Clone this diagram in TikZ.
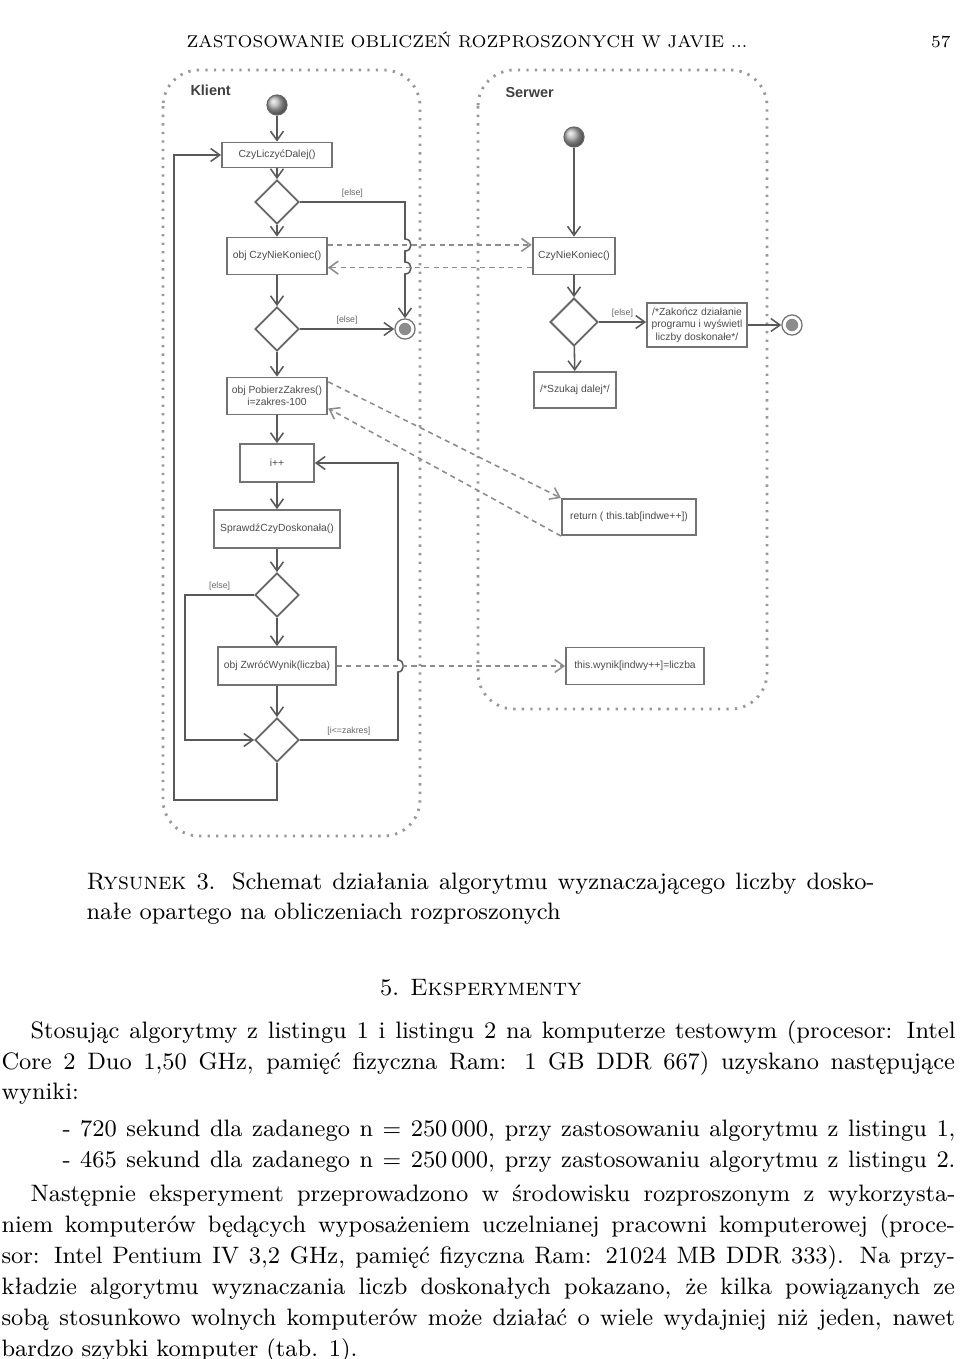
\documentclass[tikz,border=0pt]{standalone}
\usepackage{fontspec}
\newfontfamily\diagfont{Liberation Sans}
\usetikzlibrary{shapes.geometric}
\usetikzlibrary{arrows.meta}
\newcommand{\wiersz}[2]{\makebox[#1][s]{#2}}

\tikzset{
  tor/.style={draw=black!40, line width=1.1pt, dash pattern=on 0.9pt off 2.4pt, rounded corners=14pt},
  akcja/.style={draw=black!55, line width=0.7pt, fill=white, inner sep=1pt, align=center,
    text=black!70, font=\diagfont\fontsize{4}{4.8}\selectfont},
  decyzja/.style={diamond, aspect=1, draw=black!60, line width=0.7pt, minimum width=17pt,
    minimum height=17pt, inner sep=0pt},
  poczatek/.style={circle, minimum size=7.8pt, inner sep=0pt, draw=black!60, ball color=black!30},
  koniec/.style={circle, minimum size=7.8pt, inner sep=0pt, draw=black!55, line width=0.5pt,
    path picture={\fill[black!45] (path picture bounding box.center) circle (2.4pt);}},
  przejscie/.style={draw=black!65, line width=0.6pt, -{Straight Barb[length=3.5pt,width=5pt]}},
  komunikat/.style={draw=black!45, line width=0.6pt, dash pattern=on 2pt off 1.6pt,
    -{Straight Barb[length=3.5pt,width=5pt]}},
  etyk/.style={font=\diagfont\fontsize{3.4}{4}\selectfont, text=black!60, inner sep=1.5pt},
  tekst/.style={anchor=base west, inner sep=0pt, font=\fontsize{9.2}{11}\selectfont},
}

\begin{document}
\begin{tikzpicture}[x=0.387pt, y=-0.387pt]
  \useasboundingbox (0,0) rectangle (960,1359);

  % naglowek strony
  \node[anchor=base, inner sep=0pt, font=\fontsize{6.6}{8}\selectfont] (nagl) at (467,47)
    {ZASTOSOWANIE OBLICZEŃ ROZPROSZONYCH W JAVIE ...};
  \node[anchor=base east, inner sep=0pt, font=\fontsize{6.6}{8}\selectfont] (str) at (951,47) {57};

  % tory
  \draw[tor] (163,70) rectangle (420,836);
  \draw[tor] (478,70) rectangle (767,709);
  \node[anchor=west, inner sep=0pt, text=black!75, font=\diagfont\bfseries\fontsize{5.6}{6.5}\selectfont]
    (klient) at (190,90) {Klient};
  \node[anchor=west, inner sep=0pt, text=black!75, font=\diagfont\bfseries\fontsize{5.6}{6.5}\selectfont]
    (serwer) at (505,93) {Serwer};

  % klient
  \node[poczatek] (start1) at (277,105) {};
  \node[akcja, minimum width=42.6pt, minimum height=9.7pt] (cz1) at (277,155) {CzyLiczyćDalej()};
  \node[decyzja] (d1) at (277,202) {};
  \node[akcja, minimum width=38.7pt, minimum height=14.3pt] (objcnk) at (277,256) {obj CzyNieKoniec()};
  \node[decyzja] (d2) at (277,329) {};
  \node[koniec] (fin1) at (405,329) {};
  \node[akcja, minimum width=39pt, minimum height=14.3pt] (objpz) at (277,396)
    {obj PobierzZakres()\\i=zakres-100};
  \node[akcja, minimum width=28.6pt, minimum height=14.7pt] (ipp) at (277,463) {i++};
  \node[akcja, minimum width=49pt, minimum height=14.7pt] (spr) at (277,529) {SprawdźCzyDoskonała()};
  \node[decyzja] (d3) at (277,595) {};
  \node[akcja, minimum width=45.7pt, minimum height=14.7pt] (zw) at (277,666) {obj ZwróćWynik(liczba)};
  \node[decyzja] (d4) at (277,740) {};

  % serwer
  \node[poczatek] (start2) at (574,137) {};
  \node[akcja, minimum width=32pt, minimum height=14.3pt] (cnk) at (574,256) {CzyNieKoniec()};
  \node[decyzja, minimum width=18.5pt, minimum height=18.5pt] (d5) at (574,322) {};
  \node[akcja, minimum width=38.7pt, minimum height=17pt] (zak) at (697,325)
    {/*Zakończ działanie\\programu i wyświetl\\liczby doskonałe*/};
  \node[koniec] (fin2) at (792,325) {};
  \node[akcja, minimum width=31.7pt, minimum height=14pt] (szuk) at (575,390) {/*Szukaj dalej*/};
  \node[akcja, minimum width=52pt, minimum height=14pt] (ret) at (629,517) {return ( this.tab[indwe++])};
  \node[akcja, minimum width=53.4pt, minimum height=14.3pt] (wyn) at (635,666) {this.wynik[indwy++]=liczba};

  % przejscia klienta
  \draw[przejscie] (start1) -- (cz1);
  \draw[przejscie] (cz1) -- (d1);
  \draw[przejscie] (d1) -- (objcnk);
  \draw[przejscie] (d1.east) -- (405,202) node[etyk, above, pos=0.5] {[else]}
    -- (405,239) .. controls (413,239) and (413,251) .. (405,251)
    -- (405,262) .. controls (413,262) and (413,274) .. (405,274) -- (fin1.north);
  \draw[przejscie] (objcnk) -- (d2);
  \draw[przejscie] (d2.east) -- (fin1.west) node[etyk, above, midway] {[else]};
  \draw[przejscie] (d2) -- (objpz);
  \draw[przejscie] (objpz) -- (ipp);
  \draw[przejscie] (ipp) -- (spr);
  \draw[przejscie] (spr) -- (d3);
  \draw[przejscie] (d3) -- (zw);
  \draw[przejscie] (zw) -- (d4);
  \draw[przejscie] (d3.west) -- ++(-69,0) node[etyk, above, midway] {[else]} |- (d4.west);
  \draw[przejscie] (d4.east) -- (398,740) node[etyk, above, midway] {[i<=zakres]}
    -- (398,672) .. controls (405,672) and (405,660) .. (398,660) -- (398,463) -- (ipp.east);
  \draw[przejscie] (d4.south) -- ++(0,37) -| (174,155) -- (cz1.west);

  % przejscia serwera
  \draw[przejscie] (start2) -- (cnk);
  \draw[przejscie] (cnk) -- (d5);
  \draw[przejscie] (d5.east) -- (zak.west |- d5.east) node[etyk, above, midway] {[else]};
  \draw[przejscie] (zak) -- (fin2);
  \draw[przejscie] (d5) -- (szuk);

  % komunikaty
  \draw[komunikat] ([yshift=4.3pt]objcnk.east) -- ([yshift=4.3pt]cnk.west);
  \draw[komunikat] ([yshift=-4.5pt]cnk.west) -- ([yshift=-4.5pt]objcnk.east);
  \draw[komunikat] ([yshift=-2pt]objpz.north east) -- (ret.north west);
  \draw[komunikat] (ret.south west) -- ([yshift=2.7pt]objpz.south east);
  \draw[komunikat] (zw.east) -- (wyn.west);

  % podpis
  \node[tekst] (pod1) at (86,889)
    {\wiersz{305pt}{\textsc{Rysunek} 3. Schemat działania algorytmu wyznaczającego liczby dosko-}};
  \node[tekst] (pod2) at (86,919) {nałe opartego na obliczeniach rozproszonych};

  \node[tekst, anchor=base] (rozdz) at (481,995) {5. \textsc{Eksperymenty}};

  % tekst
  \node[tekst] (w1) at (30,1038)
    {\wiersz{358pt}{Stosując algorytmy z listingu 1 i listingu 2 na komputerze testowym (procesor: Intel}};
  \node[tekst] (w2) at (1,1069)
    {\wiersz{369pt}{Core 2 Duo 1,50 GHz, pamięć fizyczna Ram: 1 GB DDR 667) uzyskano następujące}};
  \node[tekst] (w3) at (1,1099) {wyniki:};
  \node[tekst] (w4) at (62,1136)
    {\wiersz{345.6pt}{- 720 sekund dla zadanego n $=$ 250\,000, przy zastosowaniu algorytmu z listingu 1,}};
  \node[tekst] (w5) at (62,1167)
    {\wiersz{345.6pt}{- 465 sekund dla zadanego n $=$ 250\,000, przy zastosowaniu algorytmu z listingu 2.}};
  \node[tekst] (w6) at (30,1201)
    {\wiersz{358pt}{Następnie eksperyment przeprowadzono w środowisku rozproszonym z wykorzysta-}};
  \node[tekst] (w7) at (1,1232)
    {\wiersz{369pt}{niem komputerów będących wyposażeniem uczelnianej pracowni komputerowej (proce-}};
  \node[tekst] (w8) at (1,1263)
    {\wiersz{369pt}{sor: Intel Pentium IV 3,2 GHz, pamięć fizyczna Ram: 21024 MB DDR 333). Na przy-}};
  \node[tekst] (w9) at (1,1294)
    {\wiersz{369pt}{kładzie algorytmu wyznaczania liczb doskonałych pokazano, że kilka powiązanych ze}};
  \node[tekst] (w10) at (1,1325)
    {\wiersz{369pt}{sobą stosunkowo wolnych komputerów może działać o wiele wydajniej niż jeden, nawet}};
  \node[tekst] (w11) at (1,1356) {bardzo szybki komputer (tab. 1).};
\end{tikzpicture}
\end{document}
